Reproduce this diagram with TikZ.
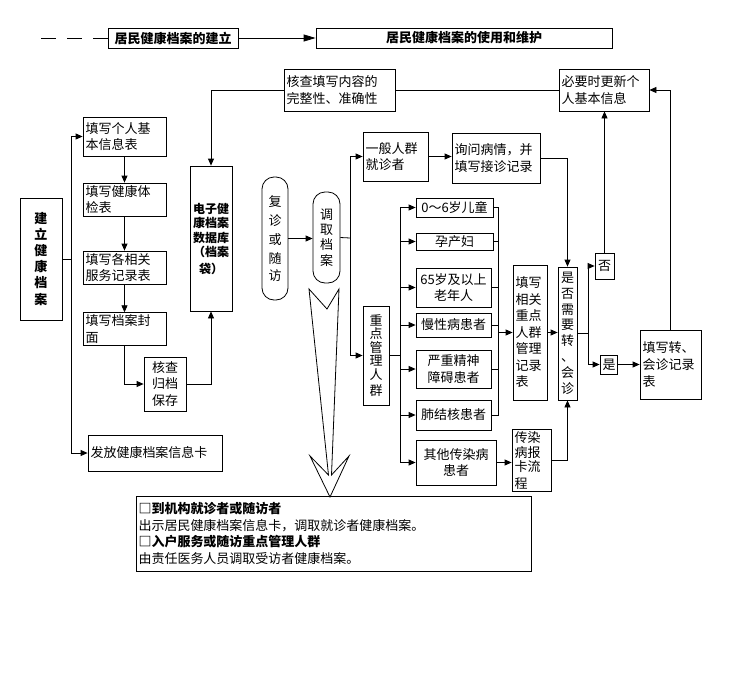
\documentclass[tikz,border=0pt]{standalone}
\usepackage{fontspec}
\setmainfont{Noto Sans CJK SC}
\usetikzlibrary{arrows.meta}
\newcommand{\chartFont}{\fontsize{13}{16.5}\selectfont}
\newcommand{\lineSkip}[2]{\fontsize{#1}{#2}\selectfont}
\tikzstyle{chart} = [x = 1pt, y = -1pt]
\tikzstyle{boxStyle} = [draw, line width = .8pt, inner sep = 2pt, font = \chartFont]
\tikzstyle{capsuleStyle} = [rounded corners = 12pt]
\tikzstyle{boldText} = [font = \chartFont\bfseries]
\tikzstyle{flowLine} = [line width = .8pt]
\tikzstyle{flowArrow} = [line width = .8pt, -{Triangle[length = 7pt, width = 6pt]}]
\tikzstyle{titleArrow} = [line width = .8pt, -{Triangle[length = 12pt, width = 7pt]}]
\newcommand{\flowBox}[7]{
  \pgfmathsetmacro{\boxWidth}{#4 - #2}
  \pgfmathsetmacro{\boxHeight}{#5 - #3}
  \pgfmathsetmacro{\boxTextWidth}{#4 - #2 - 5}
  \node [boxStyle, minimum width = \boxWidth pt, minimum height = \boxHeight pt, text width = \boxTextWidth pt, #6] (#1) at ({(#2 + #4) / 2}, {(#3 + #5) / 2}) {#7};
}
\begin{document}
\begin{tikzpicture}[chart]
          \useasboundingbox (0, 0) rectangle (732, 683);
          \flowBox{titleBuild}{108}{28}{238}{48}{boldText, align = center}{居民健康档案的建立}
          \flowBox{titleUse}{316}{28}{612}{48}{boldText, align = center}{居民健康档案的使用和维护}
          \flowBox{checkContent}{284}{69}{395}{111}{align = left}{核查填写内容的\\完整性、准确性}
          \flowBox{updateInfo}{559}{69}{649}{111}{align = left}{必要时更新个\\人基本信息}

          \flowBox{buildRecord}{20}{198}{62}{320}{boldText, align = center}{\lineSkip{13}{16}建\\立\\健\\康\\档\\案}
          \flowBox{fillBasic}{83}{117}{166}{156}{align = left}{填写个人基\\本信息表}
          \flowBox{fillExam}{83}{183}{166}{216}{align = left}{填写健康体\\检表}
          \flowBox{fillService}{83}{251}{166}{284}{align = left}{填写各相关\\服务记录表}
          \flowBox{fillCover}{83}{313}{166}{345}{align = left}{填写档案封\\面}
          \flowBox{checkArchive}{144}{357}{186}{411}{align = center}{\lineSkip{13}{16}核查\\归档\\保存}
          \flowBox{eRecord}{190}{166}{232}{311}{boldText, align = center}{\lineSkip{12}{14.5}电子健\\康档案\\数据库\\（档案\\袋）}
          \flowBox{issueCard}{88}{435}{222}{471}{align = left}{发放健康档案信息卡}

          \flowBox{revisit}{262}{177}{288}{300}{capsuleStyle, align = center}{\lineSkip{13}{19}复\\诊\\或\\随\\访}
          \flowBox{fetchRecord}{313}{192}{340}{283}{capsuleStyle, align = center}{\lineSkip{13}{15}调\\取\\档\\案}
          \flowBox{generalGroup}{363}{132}{428}{181}{align = left}{一般人群\\就诊者}
          \flowBox{askRecord}{452}{133}{540}{183}{align = left}{询问病情，并\\填写接诊记录}
          \flowBox{keyGroup}{363}{306}{389}{405}{align = center}{\lineSkip{13}{13.5}重\\点\\管\\理\\人\\群}
          \foreach \name/\top/\right/\bottom/\label in {child/198/493/217/{0～6岁儿童}, pregnant/233/493/250/{孕产妇}, elderly/268/491/307/{65岁及以上\\老年人}, chronic/313/491/337/{慢性病患者}, mental/350/491/388/{严重精神\\障碍患者}, tb/400/491/430/{肺结核患者}, otherInfect/440/496/485/{其他传染病\\患者}} {
            \flowBox{\name}{416}{\top}{\right}{\bottom}{align = center}{\label}
          }
          \flowBox{fillKey}{513}{265}{547}{400}{align = left}{\lineSkip{13}{16.5}填写\\相关\\重点\\人群\\管理\\记录\\表}
          \flowBox{reportCard}{512}{430}{551}{491}{align = left}{\lineSkip{13}{14.5}传染\\病报\\卡流\\程}
          \flowBox{needReferral}{558}{267}{577}{400}{align = center}{\lineSkip{13}{15.8}是\\否\\需\\要\\转\\、\\会\\诊}
          \flowBox{noBox}{595}{253}{614}{279}{align = center}{否}
          \flowBox{yesBox}{600}{355}{617}{374}{align = center}{是}
          \flowBox{fillReferral}{640}{330}{701}{399}{align = left}{\lineSkip{13}{17.5}填写转、\\会诊记录\\表}
          \flowBox{noteBox}{136}{496}{531}{571}{align = left}{\lineSkip{13}{16.5}{\bfseries □到机构就诊者或随访者}\\出示居民健康档案信息卡，调取就诊者健康档案。\\{\bfseries □入户服务或随访重点管理人群}\\由责任医务人员调取受访者健康档案。}

          \coordinate (dashStart) at (40, 38);
          \draw [flowLine, dash pattern = on 15pt off 11pt] (titleBuild.west) -- (dashStart);
          \draw [titleArrow] (titleBuild.east) -- (titleUse.west);
          \draw [flowArrow] (checkContent.west) -| (eRecord.north);
          \draw [flowLine] (checkContent.east) -- (updateInfo.west);

          \coordinate (buildTrunk) at (71, 259);
          \draw [flowLine] (buildRecord.east) -- (buildTrunk);
          \draw [flowArrow] (buildTrunk) |- (fillBasic.west);
          \draw [flowArrow] (buildTrunk) |- (issueCard.west);
          \foreach \upper/\lower in {fillBasic/fillExam, fillExam/fillService, fillService/fillCover} {
            \draw [flowArrow] (\upper.south) -- (\lower.north);
          }
          \draw [flowArrow] (fillCover.south) |- (checkArchive.west);
          \draw [flowArrow] (checkArchive.east) -| (eRecord.south);

          \draw [flowArrow] (revisit.east) -- (revisit.east -| fetchRecord.west);
          \coordinate (fetchSplit) at (350, 238);
          \draw [flowLine] (fetchRecord.east) -- (fetchSplit);
          \draw [flowArrow] (fetchSplit) |- (generalGroup.west);
          \draw [flowArrow] (fetchSplit) |- (keyGroup.west);
          \draw [flowArrow] (generalGroup.east) -- (generalGroup.east -| askRecord.west);
          \draw [flowArrow] (askRecord.east) -| (needReferral.north);

          \coordinate (keySplit) at (400, 355.5);
          \draw [flowLine] (keyGroup.east) -- (keySplit);
          \foreach \name in {child, pregnant, elderly, chronic, mental, tb, otherInfect} {
            \draw [flowArrow] (keySplit) |- (\name.west);
          }
          \coordinate (keyCollect) at (498, 332.5);
          \foreach \name in {child, pregnant, elderly, chronic, mental, tb} {
            \draw [flowLine] (\name.east) -| (keyCollect);
          }
          \draw [flowArrow] (keyCollect) -- (fillKey.west);
          \draw [flowArrow] (otherInfect.east) -- (otherInfect.east -| reportCard.west);
          \draw [flowArrow] (reportCard.east) -| (needReferral.south);
          \draw [flowArrow] (fillKey.east) -- (fillKey.east -| needReferral.west);

          \coordinate (referSplit) at (588, 333.5);
          \draw [flowLine] (needReferral.east) -- (referSplit);
          \draw [flowArrow] (referSplit) |- (noBox.west);
          \draw [flowArrow] (referSplit) |- (yesBox.west);
          \draw [flowArrow] (noBox.north) -- (noBox.north |- updateInfo.south);
          \draw [flowArrow] (yesBox.east) -- (yesBox.east -| fillReferral.west);
          \draw [flowArrow] (fillReferral.north) |- (updateInfo.east);

          \draw [flowLine] (309, 289) -- (327, 309) -- (339, 289) -- (331.5, 475) -- (349, 456) -- (330, 497) -- (310, 456) -- (328.5, 475) -- cycle;
        \end{tikzpicture}
\end{document}
